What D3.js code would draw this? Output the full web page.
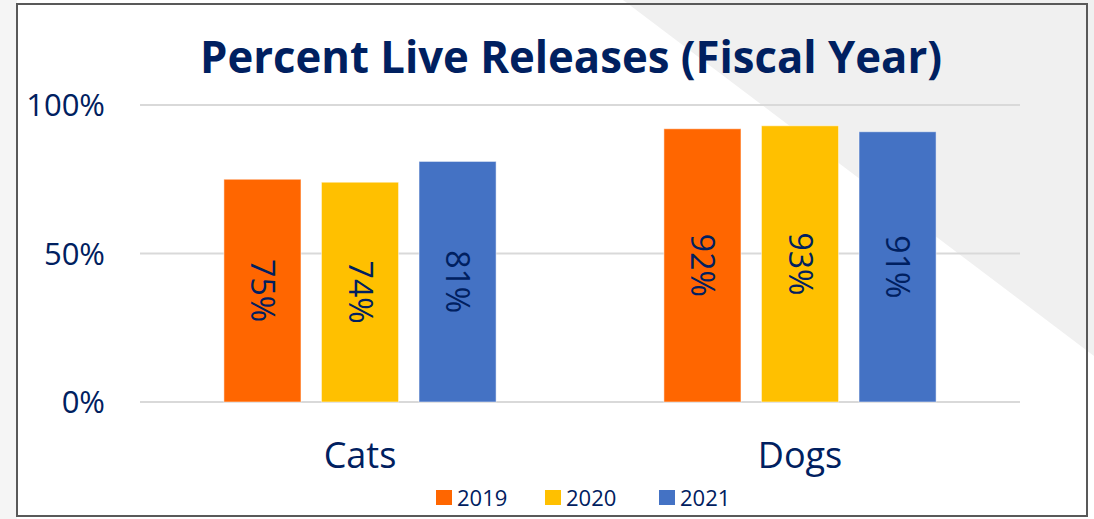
<!DOCTYPE html>
<html>
<head>
<meta charset="utf-8">
<script src="https://cdn.jsdelivr.net/npm/d3@7"></script>
<style>
  body { margin: 0; background: #fff; }
  text { font-family: "Open Sans", "Noto Sans", sans-serif; }
</style>
</head>
<body>
<div id="chart"></div>
<script>
// chart data
var categories = ["Cats", "Dogs"];
var years = ["2019", "2020", "2021"];
var values2019 = [75, 92];
var values2020 = [74, 93];
var values2021 = [81, 91];
var yTicks = [0, 50, 100];
var colors = ["#FF6600", "#FFC000", "#4472C4"];
var title = "Percent Live Releases (Fiscal Year)";

var W = 1094, H = 519;
var navy = "#002060";

// plot area
var plot = {left: 140, right: 1020, top: 105, bottom: 402};

var svg = d3.select("#chart").append("svg")
  .attr("width", W)
  .attr("height", H);

// slide background: grey triangle top right, grey strip at left
svg.append("rect").attr("width", W).attr("height", H).attr("fill", "#fff");
svg.append("path")
  .attr("d", "M623,0 L" + W + ",0 L" + W + ",356 Z")
  .attr("fill", "#f0f0f0");
svg.append("rect").attr("x", 0).attr("y", 0).attr("width", 17).attr("height", H).attr("fill", "#f5f5f5");

// frame
svg.append("rect")
  .attr("x", 17).attr("y", 4)
  .attr("width", 1070).attr("height", 512)
  .attr("fill", "none")
  .attr("stroke", "#595959")
  .attr("stroke-width", 2);

// title
svg.append("text")
  .attr("x", 571).attr("y", 73)
  .attr("text-anchor", "middle")
  .attr("font-weight", "bold")
  .attr("font-size", 44)
  .attr("fill", navy)
  .attr("textLength", 742)
  .attr("lengthAdjust", "spacingAndGlyphs")
  .text(title);

// scales
var x0 = d3.scaleBand().domain(categories).range([plot.left, plot.right]).padding(0);
var x1 = d3.scaleBand().domain(years).range([0, x0.bandwidth()]).paddingInner(0.21).paddingOuter(0.86);
var y = d3.scaleLinear().domain([0, 100]).range([plot.bottom, plot.top]);

// gridlines
svg.append("g")
  .selectAll("line")
  .data(yTicks)
  .enter().append("line")
  .attr("x1", plot.left).attr("x2", plot.right)
  .attr("y1", function(d) { return y(d); })
  .attr("y2", function(d) { return y(d); })
  .attr("stroke", "#d9d9d9")
  .attr("stroke-width", 2);

// y axis labels
var yAxis = d3.axisLeft(y).tickValues(yTicks).tickSize(0).tickPadding(0)
  .tickFormat(function(d) { return d + "%"; });
var gy = svg.append("g")
  .attr("transform", "translate(105,0)")
  .call(yAxis);
gy.select(".domain").remove();
gy.selectAll("text")
  .attr("font-size", 31)
  .attr("fill", navy)
  .attr("dy", "0.35em")
  .style("font-family", "'Open Sans', sans-serif");

// x axis labels
var xAxis = d3.axisBottom(x0).tickSize(0).tickPadding(0);
var gx = svg.append("g")
  .attr("transform", "translate(0,441)")
  .call(xAxis);
gx.select(".domain").remove();
gx.selectAll("text")
  .attr("font-size", 36)
  .attr("fill", navy)
  .attr("dy", "0.75em")
  .style("font-family", "'Open Sans', sans-serif");

// bars
var rows = categories.map(function(c, i) {
  return {cat: c, vals: [values2019[i], values2020[i], values2021[i]]};
});

var groups = svg.append("g")
  .selectAll("g")
  .data(rows)
  .enter().append("g")
  .attr("transform", function(d) { return "translate(" + x0(d.cat) + ",0)"; });

var bar = groups.selectAll("g")
  .data(function(d) {
    return d.vals.map(function(v, j) { return {year: years[j], value: v, color: colors[j]}; });
  })
  .enter().append("g");

bar.append("rect")
  .attr("x", function(d) { return x1(d.year); })
  .attr("y", function(d) { return y(d.value); })
  .attr("width", x1.bandwidth())
  .attr("height", function(d) { return y(0) - y(d.value); })
  .attr("fill", function(d) { return d.color; })
  .attr("stroke", "rgba(255,255,255,0.5)")
  .attr("stroke-width", 1);

// rotated value labels
bar.append("text")
  .attr("transform", function(d) {
    var cx = x1(d.year) + x1.bandwidth() / 2;
    var cy = (y(d.value) + y(0)) / 2;
    return "translate(" + cx + "," + cy + ") rotate(90)";
  })
  .attr("text-anchor", "middle")
  .attr("dy", "0.35em")
  .attr("font-size", 32)
  .attr("fill", navy)
  .text(function(d) { return d.value + "%"; });

// legend
var legendX = [436, 545, 659];
var legend = svg.append("g")
  .selectAll("g")
  .data(years)
  .enter().append("g")
  .attr("transform", function(d, i) { return "translate(" + legendX[i] + ",490)"; });

legend.append("rect")
  .attr("width", 16).attr("height", 15)
  .attr("fill", function(d, i) { return colors[i]; });

legend.append("text")
  .attr("x", 21).attr("y", 15.5)
  .attr("font-size", 22)
  .attr("fill", navy)
  .text(function(d) { return d; });
</script>
</body>
</html>
